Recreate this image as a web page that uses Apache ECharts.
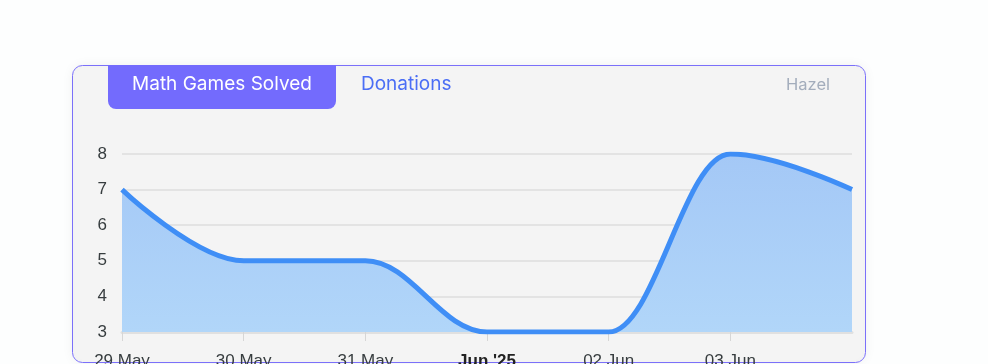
<!DOCTYPE html>
<html>
<head>
<meta charset="utf-8">
<script src="https://cdn.jsdelivr.net/npm/echarts@6/dist/echarts.min.js"></script>
<style>
html,body{margin:0;padding:0;background:#fdfefe;}
#c{width:988px;height:364px;}
</style>
</head>
<body>
<div id="c"></div>
<script>
const categories = ['29 May', '30 May', '31 May', "Jun '25", '02 Jun', '03 Jun', '04 Jun'];
const mathGamesSolved = [7, 5, 5, 3, 3, 8, 7];
const yTicks = [3, 4, 5, 6, 7, 8];
const tabLabels = ['Math Games Solved', 'Donations'];
const userName = 'Hazel';

const chart = echarts.init(document.getElementById('c'), null, {renderer: 'canvas'});
const labelFont = 'Liberation Sans, Arial, sans-serif';
const option = {
  animation: false,
  backgroundColor: 'transparent',
  grid: {left: 122, right: 136, top: 154, bottom: 32, containLabel: false, outerBoundsMode: 'none'},
  xAxis: {
    type: 'category',
    data: categories,
    boundaryGap: false,
    axisLine: {show: true, lineStyle: {color: '#e0e0e0', width: 3}},
    axisTick: {show: true, length: 9, lineStyle: {color: '#d6d6d6', width: 1},
      interval: (i) => i < categories.length - 1},
    axisLabel: {
      margin: 21, fontSize: 17, color: '#373d3f', fontFamily: labelFont,
      interval: (i) => i < categories.length - 1,
      formatter: (v) => v.startsWith('Jun') ? '{b|' + v + '}' : v,
      rich: {b: {fontWeight: 'bold', fontSize: 17, color: '#222', fontFamily: labelFont}}
    },
    splitLine: {show: false}
  },
  yAxis: {
    type: 'value',
    min: yTicks[0], max: yTicks[yTicks.length - 1], interval: 1,
    axisLine: {show: false}, axisTick: {show: false},
    axisLabel: {margin: 15, fontSize: 17, color: '#373d3f', fontFamily: labelFont,
      verticalAlign: 'middle', lineHeight: 17, padding: [0, 0, 6, 0]},
    splitLine: {lineStyle: {color: '#dedede', width: 1.5}}
  },
  series: [{
    type: 'line',
    data: mathGamesSolved,
    smooth: 0.38,
    smoothMonotone: 'x',
    showSymbol: false,
    clip: true,
    lineStyle: {color: '#3f8ef6', width: 5},
    areaStyle: {
      opacity: 1,
      color: new echarts.graphic.LinearGradient(0, 0, 0, 1, [
        {offset: 0, color: '#a4c8f6'},
        {offset: 1, color: '#b1d6f9'}
      ])
    },
    z: 3
  }],
  graphic: [
    {type: 'rect', z: -10, shape: {x: 72.5, y: 65.5, width: 793, height: 297, r: 10},
      style: {fill: '#f4f4f4', stroke: '#7b70fa', lineWidth: 1, shadowBlur: 12, shadowColor: 'rgba(0,0,0,0.06)'}},
    {type: 'rect', z: -5, shape: {x: 108, y: 65, width: 228, height: 44, r: [0, 0, 8, 8]},
      style: {fill: '#736bfd'}},
    {type: 'text', z: 10, x: 222, y: 84, style: {text: tabLabels[0], fill: '#ffffff', fontSize: 19,
      fontFamily: 'Inter, sans-serif', align: 'center', verticalAlign: 'middle'}},
    {type: 'text', z: 10, x: 361, y: 84, style: {text: tabLabels[1], fill: '#4b6ef5', fontSize: 19,
      fontFamily: 'Inter, sans-serif', align: 'left', verticalAlign: 'middle'}},
    {type: 'text', z: 10, x: 786, y: 85, style: {text: userName, fill: '#a3adbc', fontSize: 16.5,
      fontFamily: 'Inter, sans-serif', align: 'left', verticalAlign: 'middle'}}
  ]
};
chart.setOption(option);
</script>
</body>
</html>
